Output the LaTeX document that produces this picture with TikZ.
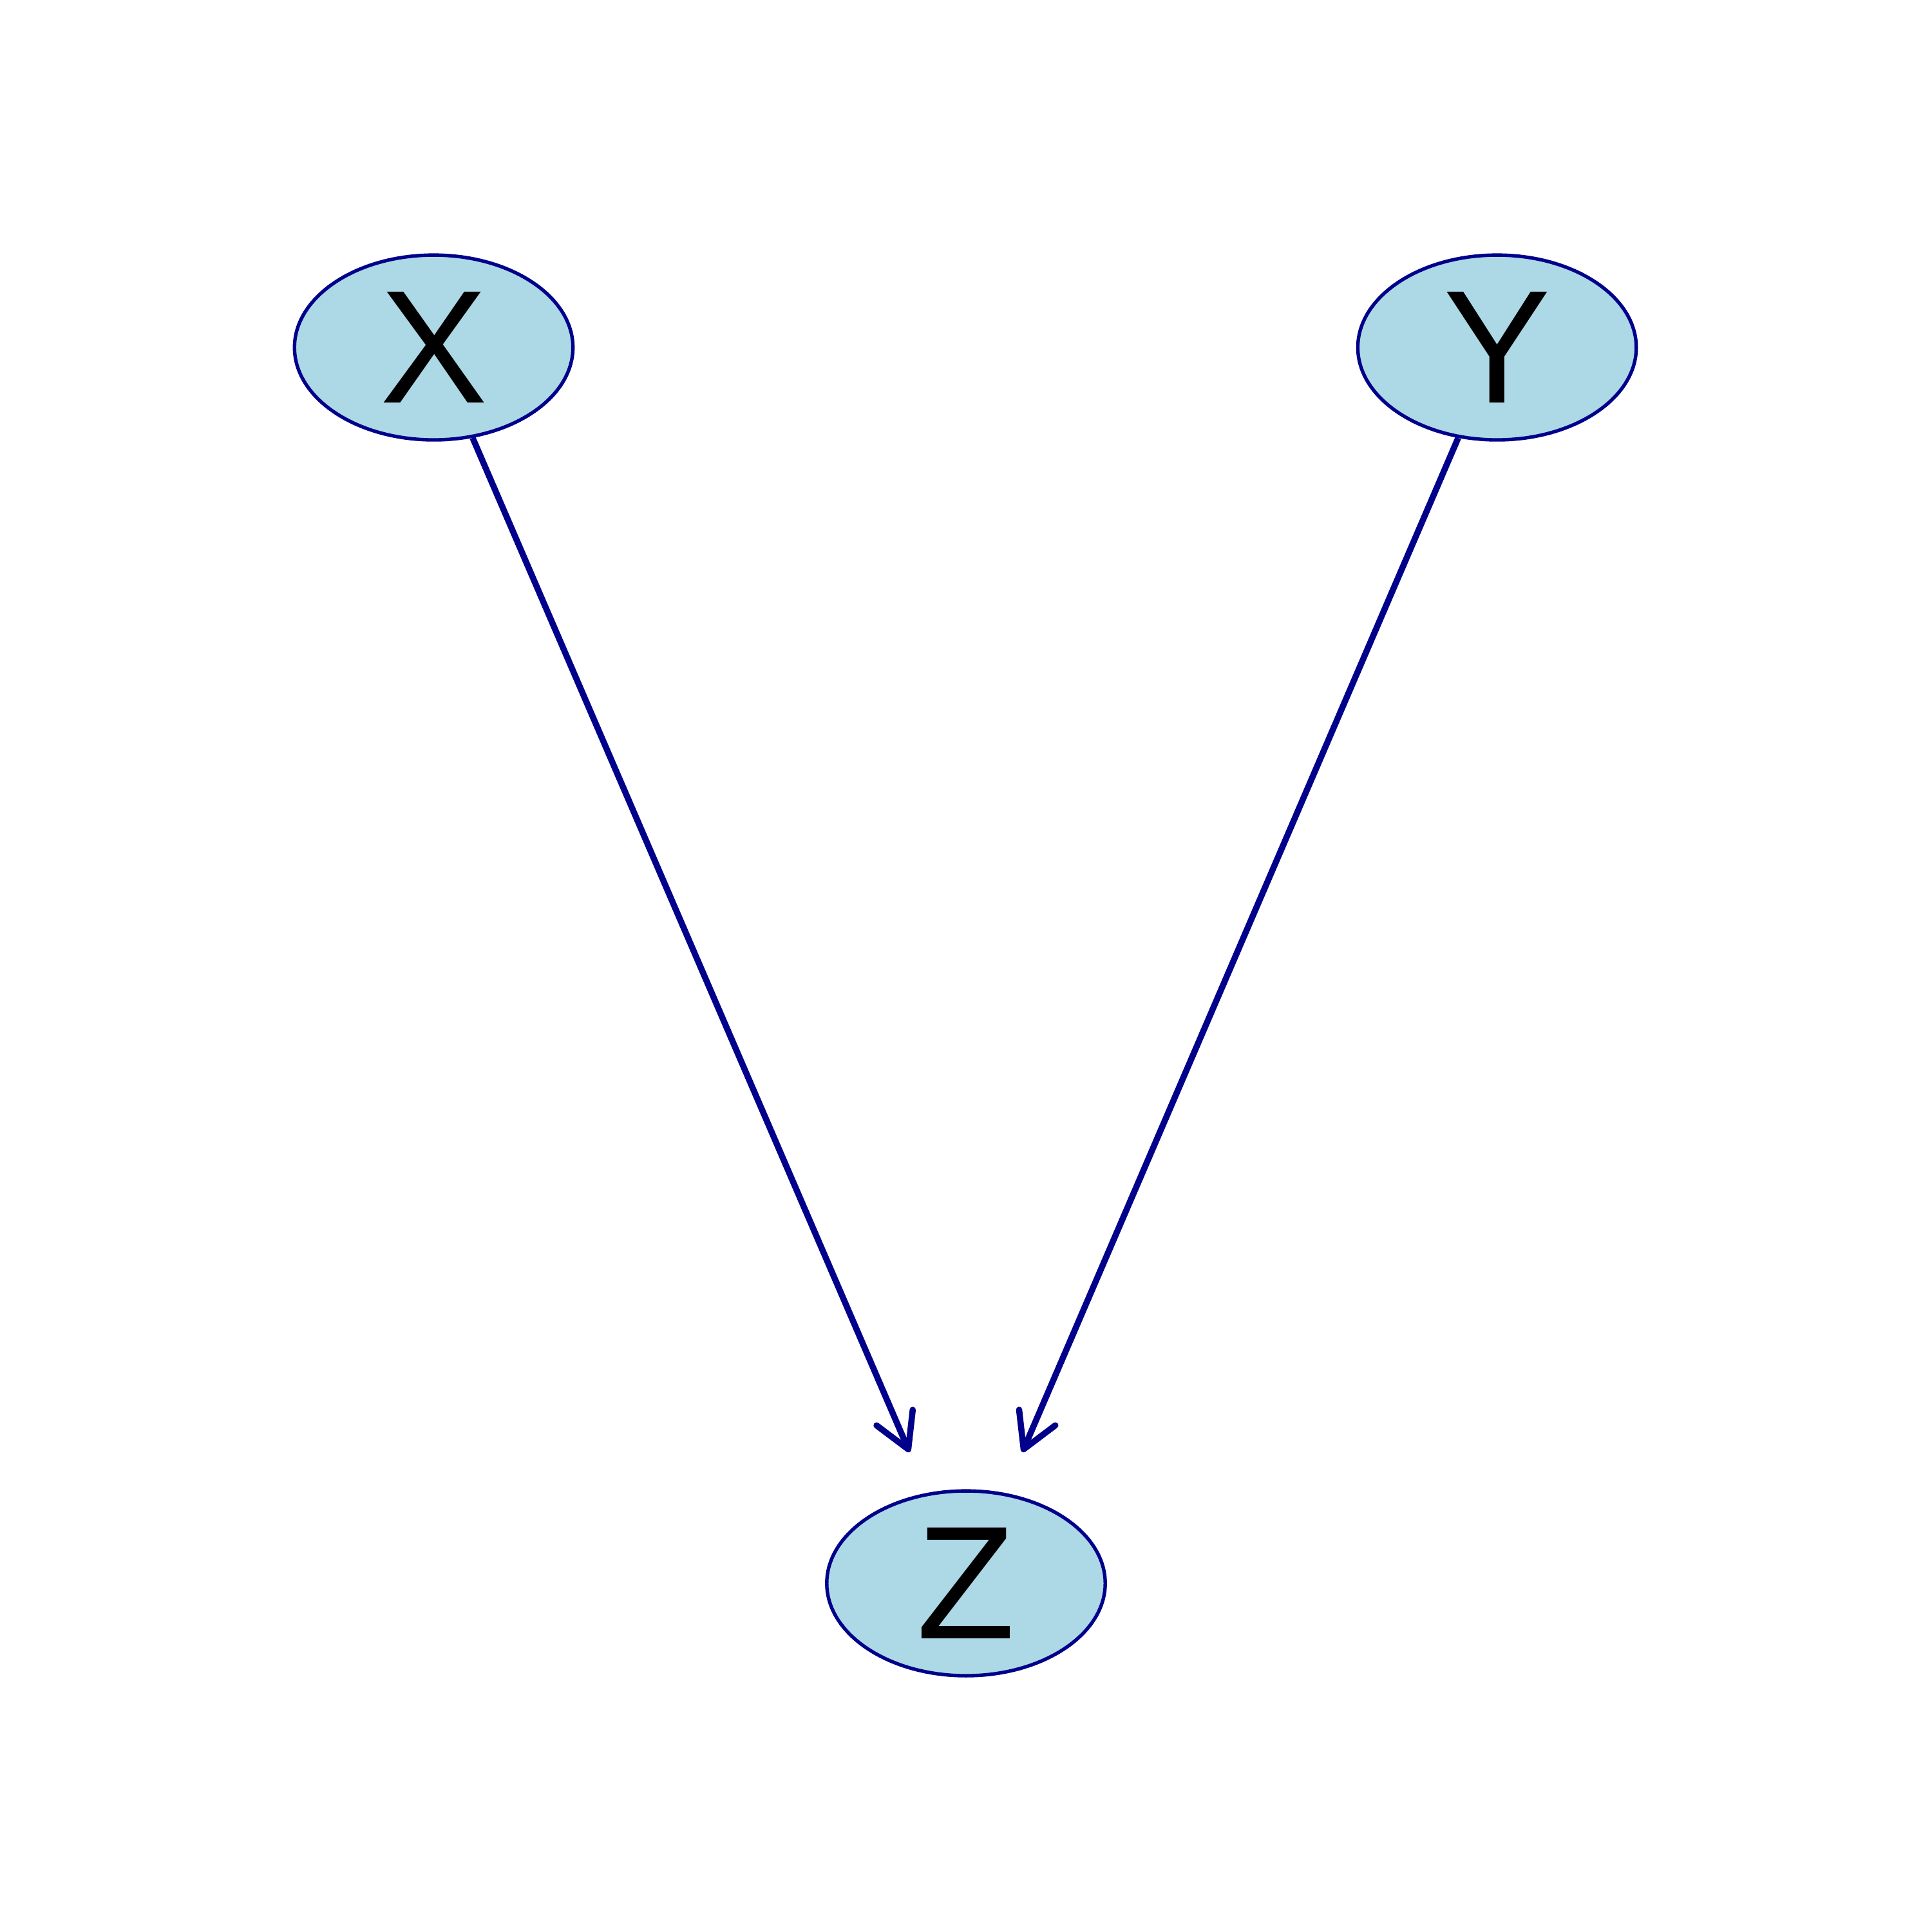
\documentclass[tikz,border=0pt]{standalone}
\usepackage{fontspec}
\setmainfont{Liberation Sans}
\usetikzlibrary{shapes.geometric,arrows.meta}
\definecolor{nodefill}{RGB}{173,216,230}
\definecolor{edgeblue}{RGB}{0,0,139}
\begin{document}
\begin{tikzpicture}[x=0.1mm,y=-0.1mm,
  varnode/.style={ellipse,draw=edgeblue,fill=nodefill,line width=0.28mm,
    minimum width=22.6mm,minimum height=15mm,inner sep=0pt,
    font=\fontsize{37.2}{38}\selectfont},
  edge/.style={draw=edgeblue,line width=0.5mm,shorten >=3.6mm,
    -{Straight Barb[length=2.8mm,width=3.2mm,round,line width=0.5mm]}}]
\useasboundingbox (0,0) rectangle (1568,1568);
\node[varnode] (X) at (352,282) {X};
\node[varnode] (Y) at (1215,282) {Y};
\node[varnode] (Z) at (784,1285) {Z};
\draw[edge] (X) -- (Z);
\draw[edge] (Y) -- (Z);
\end{tikzpicture}
\end{document}
